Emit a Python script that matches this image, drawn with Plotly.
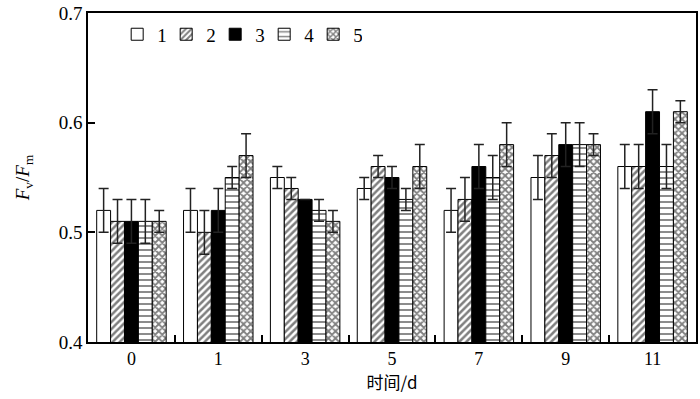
import plotly.graph_objects as go

categories = ["0", "1", "3", "5", "7", "9", "11"]
series_names = ["1", "2", "3", "4", "5"]
values = [
    [0.52, 0.52, 0.55, 0.54, 0.52, 0.55, 0.56],
    [0.51, 0.50, 0.54, 0.56, 0.53, 0.57, 0.56],
    [0.51, 0.52, 0.53, 0.55, 0.56, 0.58, 0.61],
    [0.51, 0.55, 0.52, 0.53, 0.55, 0.58, 0.56],
    [0.51, 0.57, 0.51, 0.56, 0.58, 0.58, 0.61],
]
errors = [
    [0.02, 0.02, 0.01, 0.01, 0.02, 0.02, 0.02],
    [0.02, 0.02, 0.01, 0.01, 0.02, 0.02, 0.02],
    [0.02, 0.02, 0.00, 0.01, 0.02, 0.02, 0.02],
    [0.02, 0.01, 0.01, 0.01, 0.02, 0.02, 0.02],
    [0.01, 0.02, 0.01, 0.02, 0.02, 0.01, 0.01],
]
y_ticks = [0.4, 0.5, 0.6, 0.7]

styles = [
    dict(color="white", pattern=dict(shape="")),
    dict(color="white", pattern=dict(shape="/", fgcolor="black", bgcolor="white", size=5, solidity=0.5)),
    dict(color="black", pattern=dict(shape="")),
    dict(color="white", pattern=dict(shape="-", fgcolor="black", bgcolor="white", size=6, solidity=0.3)),
    dict(color="white", pattern=dict(shape="x", fgcolor="black", bgcolor="white", size=5, solidity=0.6)),
]

serif = "Liberation Serif, Times New Roman, serif"

fig = go.Figure()
for name, vals, errs, st in zip(series_names, values, errors, styles):
    fig.add_trace(go.Bar(
        x=categories, y=vals, name=name,
        marker=dict(color=st["color"], pattern=st["pattern"],
                    line=dict(color="black", width=1)),
        error_y=dict(type="data", array=errs, visible=True,
                     color="#222222", thickness=1.5, width=5),
    ))

fig.update_layout(
    width=700, height=399,
    margin=dict(l=88, r=2, t=13, b=57),
    paper_bgcolor="white", plot_bgcolor="white",
    barmode="group", bargap=0.2, bargroupgap=0,
    font=dict(family=serif, size=18, color="black"),
    showlegend=True,
    legend=dict(orientation="h", x=0.048, y=0.935, xanchor="left", yanchor="middle",
                font=dict(family=serif, size=19), bgcolor="rgba(0,0,0,0)",
                entrywidth=4, itemwidth=30, tracegroupgap=0),
    xaxis=dict(
        type="category", showline=True, linecolor="black", linewidth=1.5, mirror=True,
        ticks="inside", tickson="boundaries", ticklen=7, tickwidth=1.5, tickcolor="black",
        tickfont=dict(family=serif, size=18),
        title=dict(text="时间/d", font=dict(family="Noto Sans CJK SC, " + serif, size=17), standoff=4),
        showgrid=False,
    ),
    yaxis=dict(
        range=[0.4, 0.7], tickvals=y_ticks, ticktext=[f"{v:.1f}" for v in y_ticks],
        showline=True, linecolor="black", linewidth=1.5, mirror=True,
        ticks="inside", ticklen=7, tickwidth=1.5, tickcolor="black",
        tickfont=dict(family=serif, size=19),
        title=dict(text="<i>F</i><sub>v</sub>/<i>F</i><sub>m</sub>", font=dict(family=serif, size=19), standoff=24),
        showgrid=False, zeroline=False,
    ),
)

fig.write_html("out.html", config={"displayModeBar": False},
               post_script="document.body.style.margin='0';document.body.style.overflow='hidden';")
